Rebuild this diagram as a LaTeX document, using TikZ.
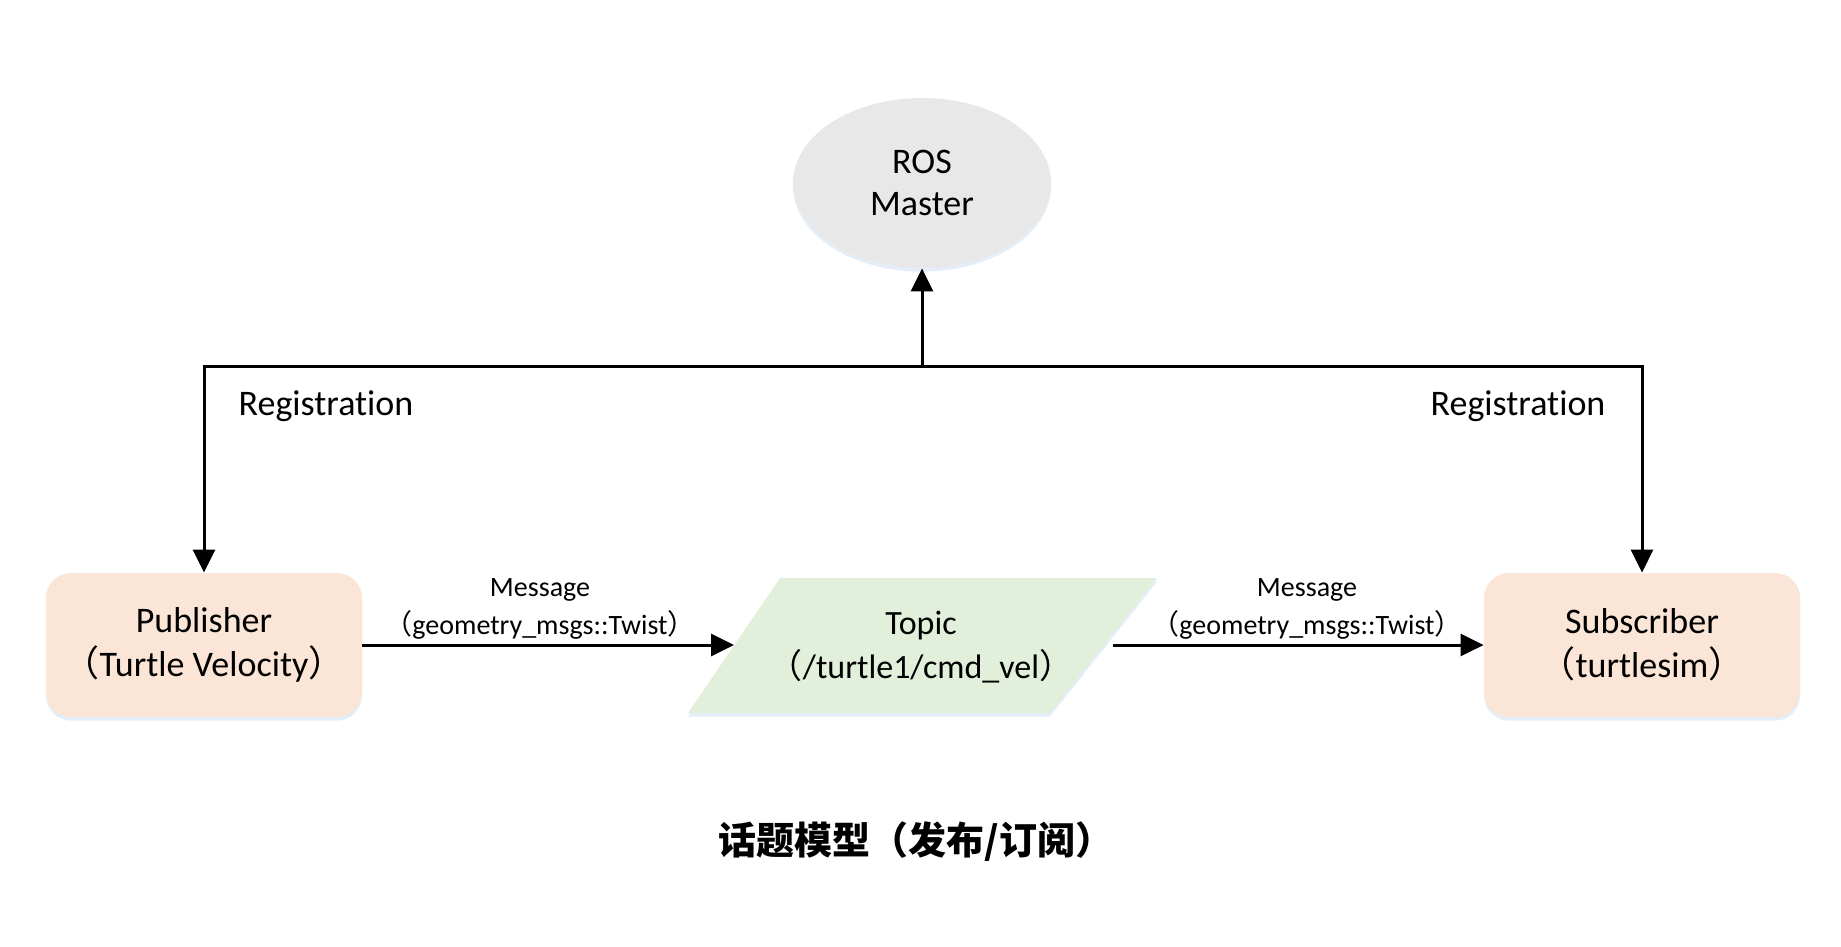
\documentclass[tikz,border=0pt]{standalone}
\usepackage{fontspec}
\setmainfont[Ligatures=NoCommon]{Carlito}
\newfontfamily\cjk{Noto Sans CJK SC}
\usetikzlibrary{shapes.geometric,arrows.meta,shadows}
\newcommand{\lpar}{\hspace*{0.22em}{\cjk （}}
\newcommand{\rpar}{{\cjk ）}\hspace*{0.22em}}
\newcommand{\tlpar}{{\cjk （}}
\newcommand{\trpar}{{\cjk ）}}
\definecolor{mastergray}{HTML}{E8E8E8}
\definecolor{peach}{HTML}{FBE5D6}
\definecolor{lightgreen}{HTML}{E2EFDA}
\definecolor{shadowblue}{HTML}{C9DDF2}
\tikzset{
  conn/.style={line width=1.5pt, -{Triangle[length=11.5pt,width=11pt]}},
  softshadow/.style={drop shadow={shadow xshift=0pt,shadow yshift=-1.8pt,fill=shadowblue,opacity=0.5}},
  mainfont/.style={font=\fontsize{18pt}{22pt}\selectfont, align=center, text=black},
  msgfont/.style={font=\fontsize{14pt}{19pt}\selectfont, align=center, text=black},
  nodebox/.style={rectangle, rounded corners=12.5pt, fill=peach, draw=none,
    minimum width=158pt, minimum height=72pt, softshadow, mainfont},
}
\begin{document}
\begin{tikzpicture}[x=0.5pt,y=-0.5pt]
\useasboundingbox (0,0) rectangle (1841,947);
% ROS master
\node[ellipse, fill=mastergray, draw=none, minimum width=129pt, minimum height=85pt,
      softshadow, mainfont, font=\fontsize{18pt}{21pt}\selectfont] (master) at (922,183) {ROS\\Master};
% publisher / subscriber
\node[nodebox] (pub) at (204,645) {Publisher\\\lpar Turtle Velocity\rpar};
\node[nodebox] (sub) at (1642,645) {Subscriber\\\lpar turtlesim\rpar};
% topic parallelogram
\fill[lightgreen, softshadow] (688,713) -- (780,578) -- (1157,578) -- (1050,713) -- cycle;
\node[mainfont, font=\fontsize{17pt}{22pt}\selectfont] (topic) at (921,647) {Topic\\\tlpar/turtle1/cmd\_vel\trpar};
\coordinate (topicL) at (734,645);
\coordinate (topicR) at (1113,645);
% registration lines
\coordinate (junc) at (922,366);
\draw[conn] (junc) -- (master.south);
\draw[conn] (junc) -| (pub.north);
\draw[conn] (junc) -| (sub.north);
\node[mainfont] (regL) at (326,406) {Registration};
\node[mainfont] (regR) at (1518,406) {Registration};
% message arrows
\draw[conn] (pub.east) -- (topicL);
\draw[conn] (topicR) -- (sub.west);
\node[msgfont] (msgL) at (540,609) {Message\\\lpar geometry\_msgs::Twist\rpar};
\node[msgfont] (msgR) at (1307,609) {Message\\\lpar geometry\_msgs::Twist\rpar};
% caption
\node[font=\cjk\bfseries\fontsize{19pt}{22pt}\selectfont, text=black] (caption) at (916,842) {话题模型（发布/订阅）};
\end{tikzpicture}
\end{document}
